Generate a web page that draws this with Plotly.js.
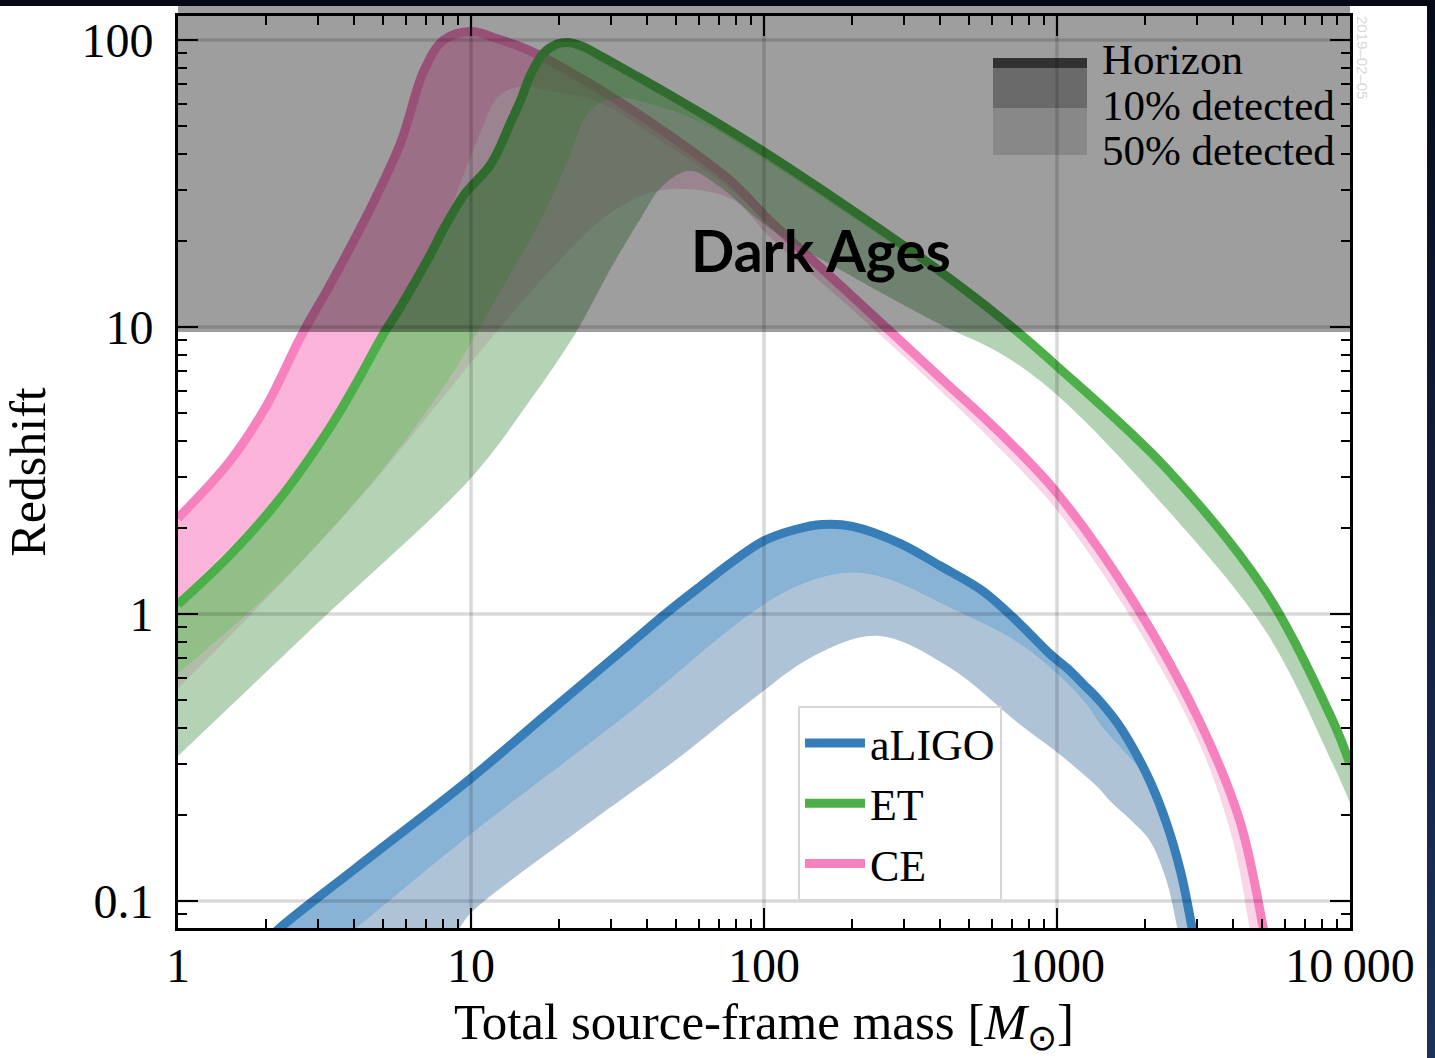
<!DOCTYPE html>
<html><head><meta charset="utf-8">
<script src="https://cdn.plot.ly/plotly-3.0.1.min.js"></script>
<style>
html,body{margin:0;padding:0;width:1435px;height:1058px;overflow:hidden;background:linear-gradient(to bottom,#050a17 0%,#0f1b36 40%,#1c315d 100%);}
#panel{position:absolute;left:0;top:6px;width:1427px;height:1052px;background:#fff;}
#chart{position:absolute;left:0;top:0;width:1435px;height:1058px;}
</style></head><body><div id="panel"></div><div id="chart"></div>
<script>
// ---------------- data (total source-frame mass M, redshift z) ----------------
const massTickVals = [1, 10, 100, 1000, 10000];
const massTickText = ['1', '10', '100', '1000', '10\u2009000'];
const zTickVals = [0.1, 1, 10, 100];
const zTickText = ['0.1', '1', '10', '100'];

const aligoHorizonM = [2.0, 2.21, 4, 10, 18.7, 34.5, 46, 60.7, 80, 100, 128, 158, 200, 292, 400, 560, 750, 948, 1109, 1228, 1370, 1600, 1820, 2100, 2372, 2650, 2844, 3000];
const aligoHorizonZ = [0.072, 0.08, 0.129, 0.268, 0.46, 0.78, 1.0, 1.25, 1.55, 1.80, 1.97, 2.05, 2.02, 1.76, 1.47, 1.2, 0.92, 0.725, 0.633, 0.57, 0.51, 0.42, 0.34, 0.255, 0.185, 0.125, 0.088, 0.065];
const aligo10M = [3.5, 4.04, 10, 34.5, 89.9, 130, 192, 260, 432, 700, 948, 1228, 1436, 1700, 2077, 2400, 2690, 2850];
const aligo10Z = [0.071, 0.08, 0.171, 0.45, 1.0, 1.25, 1.39, 1.33, 1.05, 0.82, 0.65, 0.50, 0.40, 0.33, 0.26, 0.19, 0.118, 0.07];
const aligo50M = [8, 9.08, 10, 23.3, 50, 89.9, 150, 244, 432, 731, 1000, 1228, 1400, 1518, 1800, 2077, 2350, 2570, 2700];
const aligo50Z = [0.07, 0.08, 0.091, 0.176, 0.31, 0.498, 0.72, 0.84, 0.65, 0.42, 0.33, 0.277, 0.245, 0.223, 0.19, 0.162, 0.12, 0.081, 0.06];

const etHorizonM = [1, 1.5, 2.21, 3.27, 4.0, 5.04, 5.76, 7.29, 8.07, 9.5, 11.7, 13.7, 14.8, 16, 17.7, 19.8, 21.5, 24, 27.7, 35, 46.9, 78.7, 105, 197, 400, 640, 1000, 2372, 5200, 8740, 10000];
const etHorizonZ = [1.08, 1.6, 2.5, 4.4, 6.2, 9.5, 11.8, 18, 22, 29, 37, 52, 62, 76, 90, 97, 98, 95, 88, 77, 65, 47.5, 39.5, 25.8, 15.6, 10.8, 7.3, 3.2, 1.18, 0.424, 0.30];
const et10M = [1, 2.21, 4.85, 8.2, 10.6, 13, 17.3, 21, 25.6, 31.7, 40, 59.3, 105, 200, 400, 640, 1000, 2372, 5200, 8740, 10000];
const et10Z = [0.62, 1.27, 3.07, 6.33, 9.7, 14, 23.4, 36, 56.7, 62.8, 60, 52.2, 37, 24, 15, 10.4, 7.0, 3.1, 1.13, 0.40, 0.285];
const et50M = [1, 3, 10, 16, 22.7, 30, 38, 45, 56, 70, 105, 200, 400, 640, 1000, 2372, 5200, 8740, 10000];
const et50Z = [0.32, 0.93, 2.98, 5.6, 9.5, 16, 24, 31, 35, 31, 22, 15, 10.2, 8.1, 5.8, 2.32, 0.86, 0.30, 0.22];

const ceHorizonM = [1, 1.5, 2, 2.63, 3.3, 4.44, 5.76, 6.9, 8.07, 10, 12.3, 16, 27, 45.6, 77, 105, 200, 400, 640, 1000, 1820, 3076, 4210, 5040, 5300];
const ceHorizonZ = [2.16, 3.4, 5.3, 9.3, 14, 24.8, 44, 78, 100, 107, 101, 91.5, 68, 48, 32.3, 23.4, 12.8, 6.65, 4.27, 2.64, 1.11, 0.42, 0.19, 0.082, 0.06];
const ce10M = [1, 2.21, 3.27, 5.04, 6.5, 8.5, 10.8, 12.3, 14.4, 20.7, 27, 45, 77, 105, 200, 400, 640, 1000, 1820, 3076, 4210, 5000, 5200];
const ce10Z = [1.13, 2.6, 4.6, 10, 15, 26, 48, 62.9, 68.5, 65, 61, 44, 30, 22.3, 12.3, 6.4, 4.1, 2.55, 1.07, 0.40, 0.18, 0.075, 0.06];
const ce50M = [1, 3.74, 12.1, 20, 30, 45, 77, 105, 200, 400, 640, 1000, 1820, 3076, 4000, 4550, 4800];
const ce50Z = [0.55, 2.23, 9.5, 17, 25, 30, 28, 20.5, 11.5, 6.0, 3.76, 2.3, 0.946, 0.35, 0.16, 0.08, 0.06];

const detectorNames = ['aLIGO', 'CE', 'ET'];
const bandLabels = ['Horizon', '10% detected', '50% detected'];
const dateStamp = '2019\u201302\u201305';

// ---------------- styles ----------------
const serif = '"Liberation Serif", "Times New Roman", Times, serif';
const styles = {
  aLIGO: {line: '#377eb8', mid: 'rgba(55,126,184,0.59)', light: 'rgba(95,135,175,0.5)', rank: 1},
  ET:    {line: '#4daf4a', mid: 'rgba(77,175,74,0.6)',  light: 'rgba(105,165,105,0.5)', rank: 2},
  CE:    {line: '#f781bf', mid: 'rgba(247,129,191,0.6)', light: 'rgba(243,171,207,0.5)', rank: 3}
};
const curves = {
  aLIGO: {h: [aligoHorizonM, aligoHorizonZ], p10: [aligo10M, aligo10Z], p50: [aligo50M, aligo50Z]},
  ET:    {h: [etHorizonM, etHorizonZ], p10: [et10M, et10Z], p50: [et50M, et50Z]},
  CE:    {h: [ceHorizonM, ceHorizonZ], p10: [ce10M, ce10Z], p50: [ce50M, ce50Z]}
};

const traces = [];
detectorNames.forEach(function (name) {
  const c = curves[name], s = styles[name];
  const base = {type: 'scatter', mode: 'lines', hoverinfo: 'skip', showlegend: false, legendgroup: name, legendrank: s.rank};
  const sp = {shape: 'spline', smoothing: 1};
  traces.push(Object.assign({}, base, {x: c.p50[0], y: c.p50[1], line: Object.assign({width: 0, color: s.light}, sp)}));
  traces.push(Object.assign({}, base, {x: c.p10[0], y: c.p10[1], fill: 'tonexty', fillcolor: s.light, line: Object.assign({width: 0, color: s.light}, sp)}));
  traces.push(Object.assign({}, base, {x: c.h[0], y: c.h[1], fill: 'tonexty', fillcolor: s.mid, line: Object.assign({width: 0, color: s.mid}, sp)}));
  traces.push(Object.assign({}, base, {x: c.h[0], y: c.h[1], name: name, showlegend: true,
    line: Object.assign({width: 9, color: s.line}, sp)}));
});

// minor tick positions
function minorVals(d0, d1) {
  const out = [];
  for (let d = d0; d <= d1; d++) for (let k = 2; k <= 9; k++) out.push(k * Math.pow(10, d));
  return out;
}

const gridColor = 'rgba(0,0,0,0.15)';
const shapes = [];
// legend patches for Horizon / 10% / 50% (under the dark-ages veil)
const px0 = 0.6954, px1 = 0.7756;
shapes.push({type: 'rect', xref: 'paper', yref: 'paper', x0: px0, x1: px1, y0: 0.8476, y1: 0.899, fillcolor: '#dcdcdc', line: {width: 0}, layer: 'above'});
shapes.push({type: 'rect', xref: 'paper', yref: 'paper', x0: px0, x1: px1, y0: 0.899, y1: 0.943, fillcolor: '#acacac', line: {width: 0}, layer: 'above'});
shapes.push({type: 'rect', xref: 'paper', yref: 'paper', x0: px0, x1: px1, y0: 0.943, y1: 0.954, fillcolor: '#525252', line: {width: 0}, layer: 'above'});
// grid lines drawn over the data
[10, 100, 1000].forEach(function (v) {
  shapes.push({type: 'line', xref: 'x', yref: 'paper', x0: v, x1: v, y0: 0, y1: 1, line: {color: gridColor, width: 3.5}, layer: 'above'});
});
zTickVals.forEach(function (v) {
  shapes.push({type: 'line', xref: 'paper', yref: 'y', x0: 0, x1: 1, y0: v, y1: v, line: {color: gridColor, width: 3.5}, layer: 'above'});
});
// Dark Ages veil
shapes.push({type: 'rect', xref: 'paper', yref: 'paper', x0: 0, x1: 1, y0: 0.6535, y1: 1.011, fillcolor: 'rgba(0,0,0,0.38)', line: {width: 0}, layer: 'above'});

const lblFont = {family: serif, size: 43, color: 'black'};
const annotations = [
  {text: '<b>Dark Ages</b>', xref: 'paper', yref: 'paper', x: 0.5485, y: 0.743, xanchor: 'center', yanchor: 'middle', showarrow: false,
   font: {family: 'Lato, "Open Sans", sans-serif', size: 57, color: 'black'}},
  {text: bandLabels[0], xref: 'paper', yref: 'paper', x: 0.7867, y: 0.9518, xanchor: 'left', yanchor: 'middle', showarrow: false, font: lblFont},
  {text: bandLabels[1], xref: 'paper', yref: 'paper', x: 0.7867, y: 0.9024, xanchor: 'left', yanchor: 'middle', showarrow: false, font: lblFont},
  {text: bandLabels[2], xref: 'paper', yref: 'paper', x: 0.7867, y: 0.853, xanchor: 'left', yanchor: 'middle', showarrow: false, font: lblFont},
  {text: dateStamp, xref: 'paper', yref: 'paper', x: 1.0111, y: 0.955, xanchor: 'center', yanchor: 'middle', textangle: 90, showarrow: false,
   font: {family: '"Liberation Sans", Arial, sans-serif', size: 15, color: '#d9d9d9'}}
];

const axisCommon = {
  type: 'log', showgrid: false, zeroline: false, showline: true, linecolor: 'black', linewidth: 3,
  mirror: 'allticks', ticks: 'inside', ticklen: 20, tickwidth: 2.5, tickcolor: 'black',
  tickmode: 'array', layer: 'above traces',
  tickfont: {family: serif, size: 48, color: 'black'}
};

const layout = {
  width: 1435, height: 1058,
  margin: {l: 178, r: 85, t: 16, b: 130},
  paper_bgcolor: 'rgba(0,0,0,0)', plot_bgcolor: 'rgba(0,0,0,0)',
  xaxis: Object.assign({}, axisCommon, {
    range: [0, 4], tickvals: massTickVals, ticktext: massTickText, ticklabelstandoff: -7,
    minor: {tickmode: 'array', tickvals: minorVals(0, 3), ticks: 'inside', ticklen: 9, tickwidth: 2, tickcolor: 'black', showgrid: false},
    title: {text: 'Total source-frame mass [<i>M</i><sub>\u2299</sub>]', font: {family: serif, size: 51, color: 'black'}, standoff: 34}
  }),
  yaxis: Object.assign({}, axisCommon, {
    range: [-1.094, 2.0836], tickvals: zTickVals, ticktext: zTickText, ticklabelstandoff: 12,
    minor: {tickmode: 'array', tickvals: minorVals(-2, 1), ticks: 'inside', ticklen: 9, tickwidth: 2, tickcolor: 'black', showgrid: false},
    title: {text: 'Redshift', font: {family: serif, size: 50, color: 'black'}, standoff: 20}
  }),
  showlegend: true,
  legend: {x: 0.529, y: 0.2434, xanchor: 'left', yanchor: 'top', bgcolor: 'rgba(255,255,255,0.85)',
    bordercolor: '#d6d6d6', borderwidth: 2, font: {family: serif, size: 44, color: 'black'},
    itemwidth: 60, traceorder: 'grouped', tracegroupgap: 0},
  shapes: shapes,
  annotations: annotations
};

Plotly.newPlot('chart', traces, layout, {displayModeBar: false, staticPlot: true});
</script></body></html>
